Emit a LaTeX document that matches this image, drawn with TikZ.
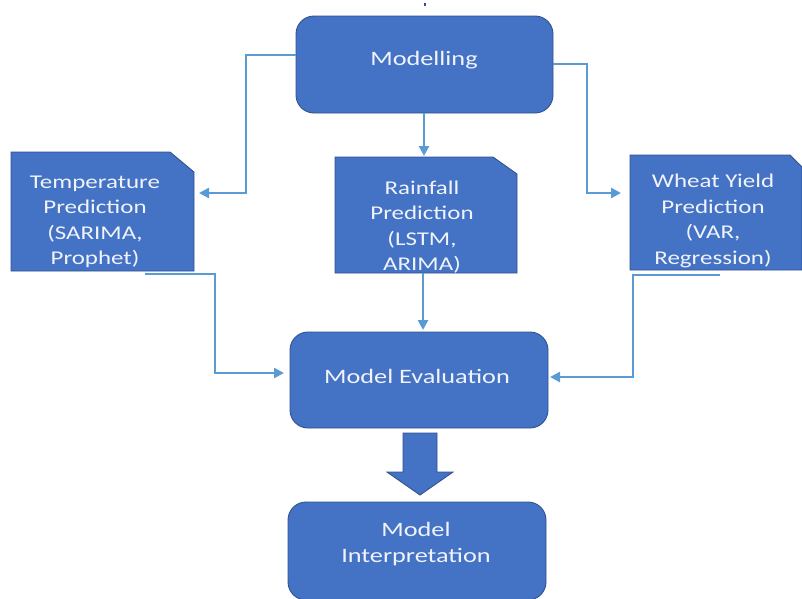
\documentclass[tikz,border=0pt]{standalone}
\usepackage{fontspec}
\setmainfont{Carlito}[FakeStretch=1.28]
\usetikzlibrary{arrows.meta}
\definecolor{boxfill}{HTML}{4472C4}
\definecolor{boxline}{HTML}{2F528F}
\definecolor{connc}{HTML}{5B9BD5}
\definecolor{txtc}{HTML}{F0F3FA}
\begin{document}
\begin{tikzpicture}[x=1pt,y=-1pt,
  rbox/.style={rectangle, rounded corners=18pt, fill=boxfill, draw=boxline, line width=0.9pt, inner sep=0pt, outer sep=0pt},
  docbox/.style={rectangle, inner sep=0pt, outer sep=0pt},
  docshape/.style={fill=boxfill, draw=boxline, line width=0.9pt},
  mainlbl/.style={text=txtc, align=center, font=\fontsize{20.5}{25.5}\selectfont, inner sep=0pt},
  doclbl/.style={text=txtc, align=center, font=\fontsize{19.5}{25.5}\selectfont, inner sep=0pt},
  conn/.style={draw=connc, line width=2.5pt, -{Triangle[length=10pt,width=10pt]}},
  connline/.style={draw=connc, line width=2.5pt}
]
\useasboundingbox (0,0) rectangle (802,598);
\begin{scope}
\clip (0,0) rectangle (802,598);

% small stub at top
\coordinate (stub) at (425,3);
\draw[boxline, line width=1.5pt] (stub) -- ++(0,3);

% Modelling
\node[rbox, minimum width=257pt, minimum height=97pt] (modl) at (424.5,64.5) {};
\node[mainlbl] (modlt) at (424,60) {Modelling};

% Temperature document
\node[docbox, minimum width=183pt, minimum height=119pt] (temp) at (102.5,211.5) {};
\path[docshape] (temp.north west) -- ([xshift=-24pt]temp.north east) -- ([yshift=-20pt]temp.north east) -- (temp.south east) -- (temp.south west) -- cycle;
\node[doclbl] (tempt) at (95,222) {Temperature\\Prediction\\(SARIMA,\\Prophet)};

% Rainfall document
\node[docbox, minimum width=182pt, minimum height=116pt] (rain) at (426,215) {};
\path[docshape] (rain.north west) -- ([xshift=-24pt]rain.north east) -- ([yshift=-17pt]rain.north east) -- (rain.south east) -- (rain.south west) -- cycle;
\begin{scope}
\clip (rain.north west) rectangle (rain.south east);
\node[doclbl] (raint) at (422,227) {Rainfall\\Prediction\\(LSTM,\\ARIMA)};
\end{scope}

% Wheat document
\node[docbox, minimum width=172pt, minimum height=115pt] (wheat) at (716,212.5) {};
\path[docshape] (wheat.north west) -- ([xshift=-12pt]wheat.north east) -- ([yshift=-12pt]wheat.north east) -- (wheat.south east) -- (wheat.south west) -- cycle;
\node[doclbl] (wheatt) at (713,221) {Wheat Yield\\Prediction\\(VAR,\\Regression)};

% Model Evaluation
\node[rbox, minimum width=258pt, minimum height=96pt] (eval) at (419,380) {};
\node[mainlbl] (evalt) at (417,376) {Model Evaluation};

% Block arrow
\coordinate (ba) at (420,433);
\path[fill=boxfill, draw=boxline, line width=0.9pt]
  ([xshift=-17pt]ba) -- ([xshift=17pt]ba) -- ++(0,39) -- ++(16,0) -- (420,495) -- (387,472) -- (403,472) -- cycle;

% Model Interpretation
\node[rbox, minimum width=258pt, minimum height=98pt] (interp) at (417,551) {};
\node[mainlbl] (interpt) at (416,544) {Model\\Interpretation};

% Connectors
\draw[conn, shorten >=5pt] (modl.west |- 0,55) -- (246,55) -- (246,193) -- (temp.east |- 0,193);
\draw[conn, shorten >=9pt] (modl.east |- 0,64) -- (587,64) -- (587,193) -- (wheat.west |- 0,193);
\draw[conn, shorten >=1pt] (modl.south -| 424,0) -- (rain.north -| 424,0);
\draw[conn, shorten >=2pt] (rain.south -| 423,0) -- (eval.north -| 423,0);
\coordinate (t1) at (145,274);
\draw[conn, shorten >=6pt] (t1) -- (215,274) -- (215,373) -- (eval.west |- 0,373);
\coordinate (w1) at (720,275);
\draw[conn, shorten >=2pt] (w1) -- (633,275) -- (633,377) -- (eval.east |- 0,377);
\end{scope}
\end{tikzpicture}
\end{document}
